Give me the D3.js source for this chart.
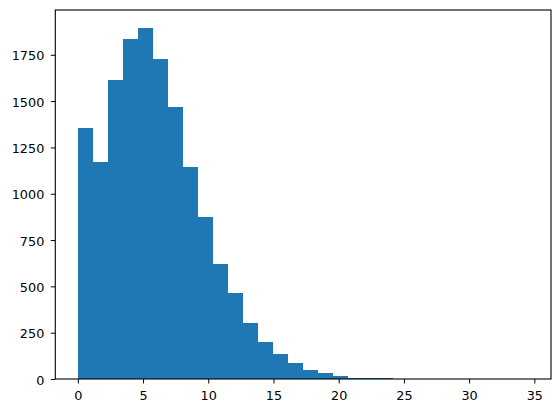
<!DOCTYPE html>
<html>
<head>
<meta charset="utf-8">
<script src="https://cdn.jsdelivr.net/npm/d3@7"></script>
<style>
  html, body { margin: 0; padding: 0; background: #ffffff; }
  svg { display: block; }
  text { font-family: "DejaVu Sans", sans-serif; }
</style>
</head>
<body>
<script>
// ---- data ----
const binStart = 0;
const binEnd = 34.55;
const binCount = 30;
const counts = [1353, 1174, 1612, 1838, 1897, 1730, 1466, 1143, 874, 621,
                465, 303, 199, 136, 88, 48, 34, 16, 6, 5,
                4, 1, 1, 0, 0, 0, 0, 0, 0, 1];
const xTicks = [0, 5, 10, 15, 20, 25, 30, 35];
const yTicks = [0, 250, 500, 750, 1000, 1250, 1500, 1750];

// ---- layout ----
const W = 560, H = 413;
const plot = { left: 55.3, right: 551, top: 10, bottom: 379 };
const barColor = "#1f77b4";
const fontSize = 12.8;

const binWidth = (binEnd - binStart) / binCount;
const bins = counts.map((c, i) => ({
  x0: binStart + i * binWidth,
  x1: binStart + (i + 1) * binWidth,
  count: c
}));

const span = binEnd - binStart;
const x = d3.scaleLinear()
  .domain([binStart - 0.05 * span, binEnd + 0.05 * span])
  .range([plot.left, plot.right]);
const y = d3.scaleLinear()
  .domain([0, d3.max(counts) * 1.05])
  .range([plot.bottom, plot.top]);

const svg = d3.select("body").append("svg")
  .attr("width", W).attr("height", H);

svg.append("g")
  .selectAll("rect")
  .data(bins)
  .join("rect")
  .attr("x", d => x(d.x0))
  .attr("width", d => x(d.x1) - x(d.x0))
  .attr("y", d => y(d.count))
  .attr("height", d => y(0) - y(d.count))
  .attr("fill", barColor)
  .attr("shape-rendering", "crispEdges");

// axes
const xAxis = d3.axisBottom(x).tickValues(xTicks).tickSize(4.5).tickPadding(7).tickFormat(d3.format("d"));
const yAxis = d3.axisLeft(y).tickValues(yTicks).tickSize(4.5).tickPadding(6.5).tickFormat(d3.format("d"));

const gx = svg.append("g").attr("transform", `translate(0,${plot.bottom})`).call(xAxis);
const gy = svg.append("g").attr("transform", `translate(${plot.left},0)`).call(yAxis);

[gx, gy].forEach(g => {
  g.select(".domain").remove();
  g.selectAll(".tick line").attr("stroke", "#000").attr("stroke-width", 1);
  g.selectAll(".tick text").attr("fill", "#000").style("font-size", fontSize + "px");
});
gy.selectAll(".tick text").attr("dy", "0.4em");

// frame (spines)
svg.append("rect")
  .attr("x", plot.left).attr("y", plot.top)
  .attr("width", plot.right - plot.left)
  .attr("height", plot.bottom - plot.top)
  .attr("fill", "none")
  .attr("stroke", "#000")
  .attr("stroke-width", 1.1);
</script>
</body>
</html>
